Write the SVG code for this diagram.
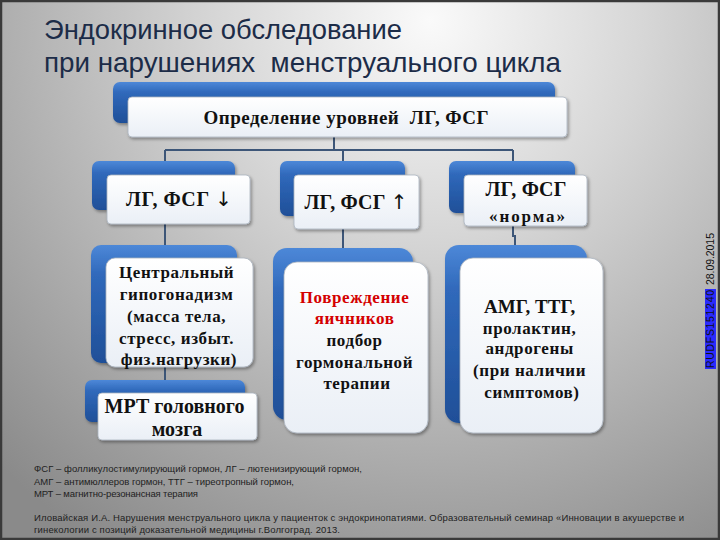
<svg xmlns="http://www.w3.org/2000/svg" width="720" height="540" viewBox="0 0 720 540">
<defs>
<radialGradient id="bg" cx="430" cy="20" r="620" gradientUnits="userSpaceOnUse">
<stop offset="0" stop-color="#fafafa"/>
<stop offset="0.35" stop-color="#d6d6d6"/>
<stop offset="1" stop-color="#8a8a8a"/>
</radialGradient>
<linearGradient id="blue" x1="0" y1="0" x2="0" y2="1">
<stop offset="0" stop-color="#4d88d8"/>
<stop offset="0.25" stop-color="#3069bb"/>
<stop offset="1" stop-color="#1f4f98"/>
</linearGradient>
<linearGradient id="white" x1="0" y1="0" x2="0" y2="1">
<stop offset="0" stop-color="#ffffff"/>
<stop offset="1" stop-color="#eaeff6"/>
</linearGradient>
<filter id="sh" x="-10%" y="-10%" width="125%" height="130%">
<feDropShadow dx="1.5" dy="2" stdDeviation="1.8" flood-color="#000" flood-opacity="0.35"/>
</filter>
</defs>
<style>
.bk{fill:url(#blue);filter:url(#sh)}
.fr{fill:url(#white);stroke:#aab2be;stroke-width:0.8;filter:url(#sh)}
.t{font-family:"Liberation Serif","Times New Roman",serif;font-weight:bold;fill:#111;text-anchor:middle}
.ar{font-family:"DejaVu Sans",sans-serif;font-weight:normal;fill:#111}
.r{fill:#d40000}
.c{fill:none;stroke:#3d5678;stroke-width:2}
.fn{font-family:"Liberation Sans",Arial,sans-serif;font-size:9.5px;fill:#222}
.ttl{font-family:"Liberation Sans",Arial,sans-serif;font-size:28px;fill:#1c2c48}
.st{font-family:"Liberation Sans",Arial,sans-serif;font-size:10.5px;fill:#111}
</style>
<rect x="0" y="0" width="720" height="540" fill="url(#bg)"/>
<rect x="1" y="1" width="718" height="538" fill="none" stroke="#3a3a3a" stroke-width="2.5"/>
<g id="title">
<text class="ttl" x="44" y="39" textLength="358" lengthAdjust="spacingAndGlyphs">Эндокринное обследование</text>
<text class="ttl" x="44" y="72" xml:space="preserve" textLength="517" lengthAdjust="spacingAndGlyphs">при нарушениях  менструального цикла</text>
</g>
<g id="connectors">
<path class="c" d="M334,137 V150 M165,150 H513 M165,150 V162 M343,150 V162 M513,150 V162"/>
<path class="c" d="M165,224 V246 M343,229 V249 M513,226 V236 H515 V246"/>
<path class="c" d="M165,367 V381"/>
</g>
<g id="n-top">
<rect class="bk" x="113" y="82" width="442" height="41" rx="7"/>
<rect class="fr" x="128" y="97" width="439" height="40" rx="4"/>
<text class="t" x="346" y="124" font-size="19" xml:space="preserve" textLength="285">Определение уровней  ЛГ, ФСГ</text>
</g>
<g id="n-low">
<rect class="bk" x="92" y="161" width="143" height="49" rx="7"/>
<rect class="fr" x="107" y="175" width="143" height="49" rx="4"/>
<text class="t" x="179" y="206" font-size="20" textLength="106">ЛГ, ФСГ <tspan class="ar">↓</tspan></text>
</g>
<g id="n-high">
<rect class="bk" x="280" y="161" width="125" height="55" rx="7"/>
<rect class="fr" x="294" y="175" width="125" height="54" rx="4"/>
<text class="t" x="356" y="209" font-size="20" textLength="103">ЛГ, ФСГ <tspan class="ar">↑</tspan></text>
</g>
<g id="n-norm">
<rect class="bk" x="449" y="161" width="126" height="52" rx="7"/>
<rect class="fr" x="464" y="175" width="123" height="51" rx="4"/>
<text class="t" x="526" y="196" font-size="20" textLength="81">ЛГ, ФСГ</text>
<text class="t" x="527" y="222" font-size="17" textLength="76">«норма»</text>
</g>
<g id="n-central">
<rect class="bk" x="91" y="245" width="146" height="118" rx="10"/>
<rect class="fr" x="106" y="258" width="147" height="109" rx="9"/>
<text class="t" font-size="17" letter-spacing="0.6">
<tspan x="179" y="278">Центральный</tspan>
<tspan x="179" y="300">гипогонадизм</tspan>
<tspan x="179" y="322">(масса тела,</tspan>
<tspan x="179" y="344">стресс, избыт.</tspan>
<tspan x="179" y="365">физ.нагрузки)</tspan>
</text>
</g>
<g id="n-mrt">
<rect class="bk" x="85" y="380" width="160" height="42" rx="7"/>
<rect class="fr" x="98" y="393" width="159" height="47" rx="4"/>
<text class="t" font-size="20">
<tspan x="177" y="413" textLength="140">МРТ головного</tspan>
<tspan x="177" y="436">мозга</tspan>
</text>
</g>
<g id="n-ovary">
<rect class="bk" x="273" y="248" width="140" height="172" rx="14"/>
<rect class="fr" x="284" y="262" width="144" height="171" rx="13"/>
<text class="t" font-size="17" letter-spacing="0.6">
<tspan class="r" x="357" y="303">Повреждение</tspan>
<tspan class="r" x="357" y="324">яичников</tspan>
<tspan x="357" y="346">подбор</tspan>
<tspan x="357" y="368">гормональной</tspan>
<tspan x="357" y="389">терапии</tspan>
</text>
</g>
<g id="n-norm-tests">
<rect class="bk" x="445" y="245" width="142" height="178" rx="14"/>
<rect class="fr" x="460" y="258" width="143" height="175" rx="13"/>
<text class="t" font-size="17" letter-spacing="0.6">
<tspan x="532" y="313" font-size="19" letter-spacing="0">АМГ, ТТГ,</tspan>
<tspan x="532" y="334">пролактин,</tspan>
<tspan x="532" y="354">андрогены</tspan>
<tspan x="532" y="376">(при наличии</tspan>
<tspan x="532" y="398">симптомов)</tspan>
</text>
</g>
<g id="footnotes">
<text class="fn" x="34" y="472" textLength="328">ФСГ – фолликулостимулирующий гормон, ЛГ – лютенизирующий гормон,</text>
<text class="fn" x="34" y="485" textLength="260">АМГ – антимюллеров гормон, ТТГ – тиреотропный гормон,</text>
<text class="fn" x="34" y="497" textLength="164">МРТ – магнитно-резонансная терапия</text>
<text class="fn" x="34" y="521" textLength="650">Иловайская И.А. Нарушения менструального цикла у пациенток с эндокринопатиями. Образовательный семинар «Инновации в акушерстве и</text>
<text class="fn" x="34" y="533" textLength="306">гинекологии с позиций доказательной медицины г.Волгоград. 2013.</text>
</g>
<g id="stamp" transform="translate(714,368) rotate(-90)">
<rect x="-1" y="-9" width="80" height="11" fill="#2a2aff"/>
<text class="st" x="0" y="0" textLength="78">RUDFS151240</text>
<text class="st" x="83" y="0" textLength="52">28.09.2015</text>
</g>
</svg>
